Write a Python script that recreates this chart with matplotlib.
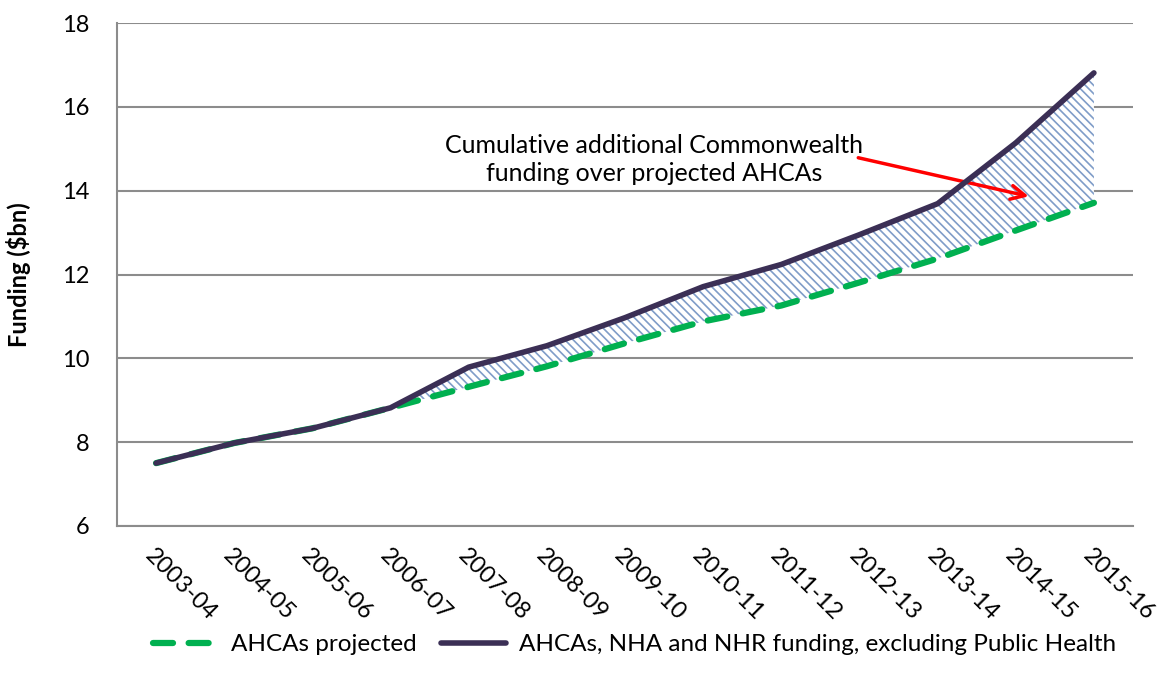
import numpy as np
import matplotlib.pyplot as plt

plt.rcParams['font.family'] = ['Lato', 'DejaVu Sans']
plt.rcParams['hatch.linewidth'] = 1.2

years = ['2003-04', '2004-05', '2005-06', '2006-07', '2007-08', '2008-09', '2009-10',
         '2010-11', '2011-12', '2012-13', '2013-14', '2014-15', '2015-16']
actual = [7.50, 7.98, 8.33, 8.82, 9.79, 10.30, 10.97, 11.71, 12.24, 12.95, 13.69, 15.14, 16.81]
projected = [7.50, 7.98, 8.33, 8.82, 9.32, 9.81, 10.36, 10.88, 11.26, 11.81, 12.38, 13.05, 13.71]

fig = plt.figure(figsize=(11.64, 6.84), dpi=100)
ax = fig.add_axes([117/1164, 1 - 526/684, (1133-117)/1164, (526-23)/684])

x = np.arange(len(years))
ax.fill_between(x, projected, actual, facecolor='white', edgecolor='#7f9cc8',
                hatch='\\\\\\\\', linewidth=0)
ax.plot(x, projected, color='#00b050', lw=4.5, dashes=(3.2, 2.5),
        solid_capstyle='round', dash_capstyle='round', label='AHCAs projected', zorder=3)
ax.plot(x, actual, color='#3b2f55', lw=4, solid_capstyle='round',
        label='AHCAs, NHA and NHR funding, excluding Public Health', zorder=4)

ax.set_xlim(-0.5, len(years) - 0.5)
ax.set_ylim(6, 18)
ax.set_yticks(range(6, 19, 2))
ax.set_xticks(x)
ax.set_xticklabels(years, rotation=-45, ha='left', va='top', rotation_mode='anchor')
ax.tick_params(length=0, labelsize=17)
ax.tick_params(axis='y', pad=20)
ax.tick_params(axis='x', pad=14, labelsize=17)
ax.grid(axis='y', color='#8c8c8c', lw=1.5)
ax.set_axisbelow(True)
for s in ['top', 'right']:
    ax.spines[s].set_visible(False)
for s in ['left', 'bottom']:
    ax.spines[s].set_color('#8c8c8c')
    ax.spines[s].set_linewidth(1.5)
ax.set_ylabel('Funding ($bn)', fontsize=17, fontweight='bold', labelpad=22)

ax.text(6.37, 14.75, 'Cumulative additional Commonwealth\nfunding over projected AHCAs',
        ha='center', va='center', fontsize=18, linespacing=1.25)
ax.annotate('', xy=(11.2, 13.85), xytext=(8.95, 14.8),
            arrowprops=dict(arrowstyle='->', color='#ff0000', lw=2.5,
                            mutation_scale=25))

leg = fig.legend(loc='lower center', bbox_to_anchor=(0.545, 0.01), ncol=2, frameon=False,
                 fontsize=17.5, handlelength=2.7, columnspacing=1.0, handletextpad=0.5)

fig.savefig('out.png', dpi=100)
